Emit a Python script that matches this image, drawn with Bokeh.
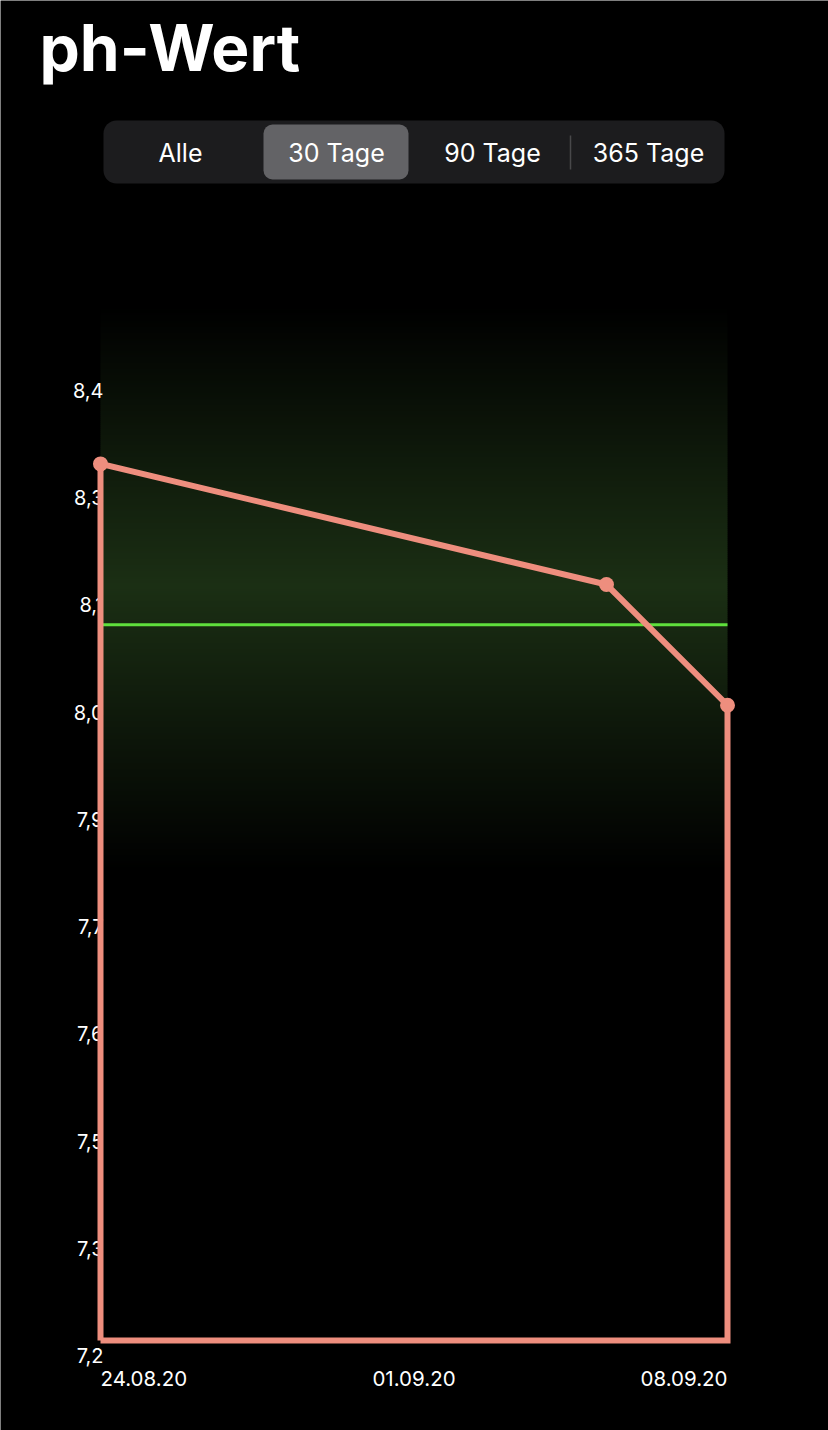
import numpy as np
import pandas as pd
from bokeh.plotting import figure
from bokeh.models import BoxAnnotation, Label, Range1d
from bokeh.core.properties import value
from bokeh.embed import file_html
from bokeh.resources import INLINE

# ---------------- data ----------------
title = "ph-Wert"
segments = ["Alle", "30 Tage", "90 Tage", "365 Tage"]
selected_segment = "30 Tage"
dates = ["2020-08-24 00:00", "2020-09-05 02:30", "2020-09-08 00:00"]
ph_values = [8.29, 8.14, 7.99]
target_ph = 8.09
x_tick_labels = ["24.08.20", "01.09.20", "08.09.20"]
y_tick_labels = ["7,2", "7,3", "7,5", "7,6", "7,7", "7,9", "8,0", "8,1", "8,3", "8,4"]
y_min, y_max = 7.2, 8.4

# ---------------- derived ----------------
d = pd.to_datetime(dates)
days = [(t - d[0]).total_seconds() / 86400.0 for t in d]
span = days[-1]

FIG_W, FIG_H, M = 828, 1430, 0
X0P, X1P = 100, 727          # page px of first / last day
Y0P = 1340                   # page px of y_min
PPU = 804.2                  # px per pH unit
ppd = (X1P - X0P) / span

def dx(px):
    return (px - X0P) / ppd

def dy(py):
    return y_min + (Y0P - py) / PPU

p = figure(width=FIG_W, height=FIG_H, output_backend="svg", toolbar_location=None,
           x_range=Range1d(dx(M), dx(M + FIG_W)), y_range=Range1d(dy(M + FIG_H), dy(M)),
           min_border=0, background_fill_color="black", border_fill_color="black")
p.axis.visible = False
p.grid.visible = False
p.outline_line_color = None

# ---------------- gradient background ----------------
g_top, g_peak, g_bot = 307, 585, 870
peak = np.array([27, 47, 20])
edges = np.arange(g_top, g_bot + 1, 2)
bots, tops, cols = [], [], []
for a, b in zip(edges[:-1], edges[1:]):
    m = (a + b) / 2
    if m <= g_peak:
        t = (m - g_top) / (g_peak - g_top)
    else:
        t = (g_bot - m) / (g_bot - g_peak)
    c = (peak * max(t, 0)).round().astype(int)
    cols.append("#%02x%02x%02x" % tuple(c))
    tops.append(dy(a - 0.6))
    bots.append(dy(b))
p.quad(left=0, right=span, bottom=bots, top=tops, fill_color=cols, line_color=None)

# ---------------- y tick labels ----------------
y_ticks = np.linspace(y_min, y_max, len(y_tick_labels))
p.text(x=[dx(103)] * len(y_ticks), y=list(y_ticks), text=y_tick_labels,
       text_color="white", text_font=value("Inter"), text_font_size="20px",
       text_align="right", text_baseline="middle", y_offset=15)

# ---------------- target line ----------------
p.line(x=[0, span], y=[target_ph, target_ph], line_color="#5fe03c", line_width=3)

# ---------------- series outline ----------------
xs = [days[0]] + days + [days[-1], days[0]]
ys = [y_min] + ph_values + [y_min, y_min]
p.line(x=xs, y=ys, line_color="#ee8e7e", line_width=6, line_join="miter")
p.scatter(x=days, y=ph_values, size=15, fill_color="#ee8e7e", line_color=None)

# ---------------- x tick labels ----------------
x_tick_pos = list(np.linspace(days[0], days[-1], len(x_tick_labels)))
p.text(x=x_tick_pos, y=[dy(1378)] * 3, text=x_tick_labels,
       text_align=["left", "center", "right"], text_baseline="middle",
       text_color="white", text_font=value("Inter"), text_font_size="20.5px")

# ---------------- title ----------------
p.add_layout(Label(x=dx(39), y=dy(47), text=title, text_color="white",
                   text_font="Inter", text_font_style="bold", text_font_size="64px",
                   text_baseline="alphabetic"))

# ---------------- segmented control ----------------
p.add_layout(BoxAnnotation(left=dx(103), right=dx(724), top=dy(120), bottom=dy(183),
                           fill_color="#1c1c1e", fill_alpha=1, line_color=None,
                           border_radius=13, level="underlay"))
p.add_layout(BoxAnnotation(left=dx(263), right=dx(408), top=dy(124), bottom=dy(179),
                           fill_color="#636366", fill_alpha=1, line_color=None,
                           border_radius=9, level="underlay"))
p.segment(x0=[dx(570)], x1=[dx(570)], y0=[dy(135)], y1=[dy(169)],
          line_color="#48484a", line_width=1.5)
seg_centers = [180, 336, 492, 648]
p.text(x=[dx(c) for c in seg_centers], y=[dy(152)] * 4, text=segments,
       text_align="center", text_baseline="middle", text_color="white",
       text_font=value("Inter"), text_font_size="25px")

open("out.html", "w").write(file_html(p, INLINE))
